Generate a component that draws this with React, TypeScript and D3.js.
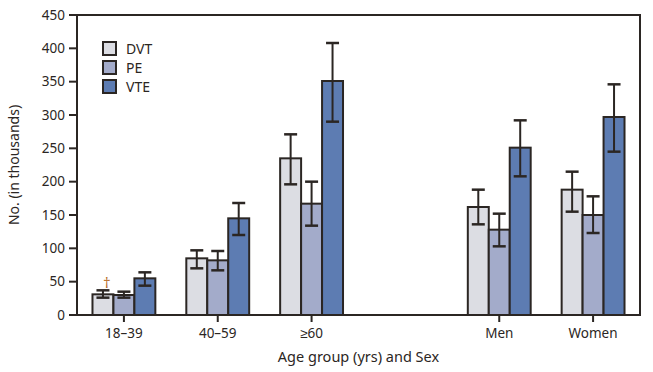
import React from "react";
import * as d3 from "d3";

// categories (the empty slot is the gap between age groups and sex)
const groups = ["18–39", "40–59", "≥60", "", "Men", "Women"];
const seriesNames = ["DVT", "PE", "VTE"];
const seriesColors = ["#dcdde3", "#a3abca", "#5d7cb2"];

// values in thousands, per group, order DVT/PE/VTE
const dvt = [31, 85, 235, null, 162, 188];
const dvtLow = [26, 70, 196, null, 136, 155];
const dvtHigh = [37, 97, 271, null, 188, 215];
const pe = [30, 82, 167, null, 128, 150];
const peLow = [26, 67, 134, null, 103, 123];
const peHigh = [35, 96, 200, null, 152, 178];
const vte = [55, 145, 351, null, 251, 297];
const vteLow = [44, 120, 290, null, 208, 245];
const vteHigh = [64, 168, 408, null, 292, 346];
const yTicks = [0, 50, 100, 150, 200, 250, 300, 350, 400, 450];

const W = 653;
const H = 372;
const margin = { top: 15, right: 13, bottom: 57, left: 77 };
const ink = "#2b2623";
const font = "'Noto Sans', sans-serif";

export default function App() {
  const x = d3
    .scaleBand()
    .domain(groups)
    .range([margin.left, W - margin.right])
    .paddingInner(0.33)
    .paddingOuter(0.165);
  const xs = d3.scaleBand().domain(seriesNames).range([0, x.bandwidth()]);
  const y = d3.scaleLinear().domain([0, 450]).range([H - margin.bottom, margin.top]);

  const data = [
    { vals: dvt, lo: dvtLow, hi: dvtHigh },
    { vals: pe, lo: peLow, hi: peHigh },
    { vals: vte, lo: vteLow, hi: vteHigh },
  ];

  const capW = 13;
  const y0 = y(0);

  return (
    <svg width={W} height={H} style={{ position: "absolute", left: 0, top: 0, background: "#fff" }} fontFamily={font}>
      {/* bars */}
      {data.map((s, si) =>
        groups.map((g, gi) => {
          const v = s.vals[gi];
          if (v == null) return null;
          const bx = x(g) + xs(seriesNames[si]);
          const cx = bx + xs.bandwidth() / 2;
          return (
            <g key={si + "-" + gi}>
              <rect x={bx} y={y(v)} width={xs.bandwidth()} height={y0 - y(v)} fill={seriesColors[si]} stroke={ink} strokeWidth={2} />
              <line x1={cx} x2={cx} y1={y(s.lo[gi])} y2={y(s.hi[gi])} stroke={ink} strokeWidth={2} />
              <line x1={cx - capW / 2} x2={cx + capW / 2} y1={y(s.lo[gi])} y2={y(s.lo[gi])} stroke={ink} strokeWidth={2.5} />
              <line x1={cx - capW / 2} x2={cx + capW / 2} y1={y(s.hi[gi])} y2={y(s.hi[gi])} stroke={ink} strokeWidth={2.5} />
            </g>
          );
        })
      )}

      {/* dagger above the first DVT bar */}
      <text
        x={x(groups[0]) + xs(seriesNames[0]) + xs.bandwidth() / 2 + 4}
        y={y(dvtHigh[0]) - 2}
        textAnchor="middle"
        fontSize={15}
        fill="#b8702c"
      >
        †
      </text>

      {/* frame */}
      <rect x={margin.left} y={margin.top} width={W - margin.left - margin.right} height={y0 - margin.top} fill="none" stroke={ink} strokeWidth={2} />

      {/* y axis */}
      {yTicks.map((t) => (
        <g key={t}>
          <line x1={margin.left - 8} x2={margin.left} y1={y(t)} y2={y(t)} stroke={ink} strokeWidth={2} />
          <text x={margin.left - 12} y={y(t)} dy="0.35em" textAnchor="end" fontSize={13.5} fill={ink}>
            {t}
          </text>
        </g>
      ))}
      <text transform={`translate(19,${(margin.top + y0) / 2}) rotate(-90)`} textAnchor="middle" fontSize={14} fill={ink}>
        No. (in thousands)
      </text>

      {/* x axis */}
      {groups.map((g) =>
        g === "" ? null : (
          <g key={g}>
            <line x1={x(g) + x.bandwidth() / 2} x2={x(g) + x.bandwidth() / 2} y1={y0} y2={y0 + 7} stroke={ink} strokeWidth={2} />
            <text x={x(g) + x.bandwidth() / 2} y={y0 + 23} textAnchor="middle" fontSize={13.5} fill={ink}>
              {g}
            </text>
          </g>
        )
      )}
      <text x={(margin.left + W - margin.right) / 2} y={H - 10} textAnchor="middle" fontSize={14.5} fill={ink}>
        Age group (yrs) and Sex
      </text>

      {/* legend */}
      {seriesNames.map((n, i) => (
        <g key={n} transform={`translate(103,${42 + i * 19})`}>
          <rect x={0} y={0} width={13} height={13} fill={seriesColors[i]} stroke={ink} strokeWidth={2} />
          <text x={23} y={11.5} fontSize={14} fill={ink}>
            {n}
          </text>
        </g>
      ))}
    </svg>
  );
}
